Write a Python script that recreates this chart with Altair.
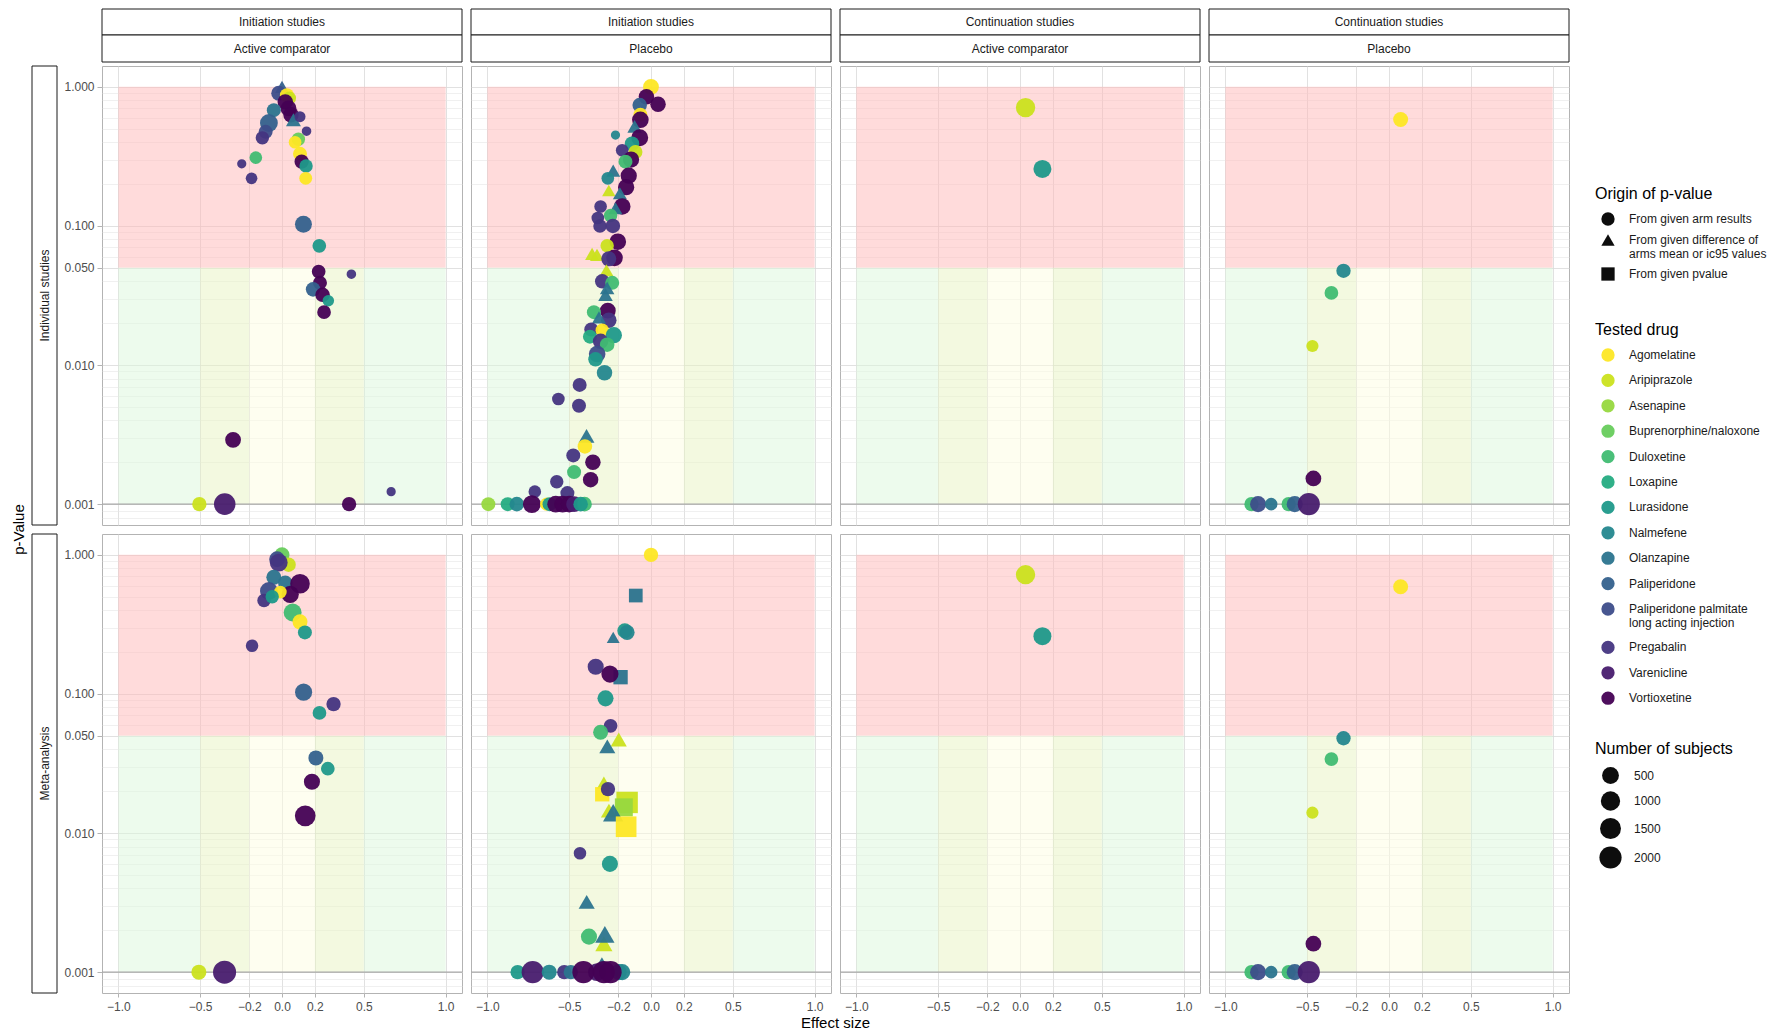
import altair as alt
import pandas as pd

FONT = "Liberation Sans"

# ---------------- categories ----------------
DRUG_CODES = ["AGO", "ARI", "ASE", "BUP", "DUL", "LOX", "LUR", "NAL", "OLA",
              "PAL", "PPL", "PRE", "VAR", "VOR"]
DRUG_NAMES = ["Agomelatine", "Aripiprazole", "Asenapine", "Buprenorphine/naloxone",
              "Duloxetine", "Loxapine", "Lurasidone", "Nalmefene", "Olanzapine",
              "Paliperidone", "Paliperidone palmitate long acting injection",
              "Pregabalin", "Varenicline", "Vortioxetine"]
DRUG_COLORS = ["#FDE725", "#CBE11E", "#97D83F", "#67CC5C", "#40BC72", "#25AC82",
               "#1F998A", "#24878E", "#2B748E", "#34618D", "#3D4D8A", "#453581",
               "#481C6E", "#440154"]
ORIGIN_CODES = ["A", "D", "P"]
ORIGIN_NAMES = ["From given arm results",
                "From given difference of arms mean or ic95 values",
                "From given pvalue"]
ORIGIN_SHAPES = ["circle", "triangle-up", "square"]

STUDY_TYPES = ["Initiation studies", "Initiation studies",
               "Continuation studies", "Continuation studies"]
COMPARATORS = ["Active comparator", "Placebo", "Active comparator", "Placebo"]
LEVELS = ["Individual studies", "Meta-analysis"]

X_TICKS = [-1.0, -0.5, -0.2, 0.0, 0.2, 0.5, 1.0]
Y_TICKS = [0.001, 0.01, 0.05, 0.1, 1.0]
Y_MINOR = [0.0008, 0.0009, 0.002, 0.003, 0.004, 0.005, 0.006, 0.007, 0.008, 0.009,
           0.02, 0.03, 0.04, 0.06, 0.07, 0.08, 0.09,
           0.2, 0.3, 0.4, 0.5, 0.6, 0.7, 0.8, 0.9]
SUBJECT_TICKS = [500, 1000, 1500, 2000]

# thresholds of the coloured zones
P_FLOOR, P_SIGNIF, P_MAX = 0.001, 0.05, 1.0
ES_SMALL, ES_MEDIUM, ES_MAX = 0.2, 0.5, 1.0
ZONES = ["not significant", "large effect", "medium effect", "small effect"]
ZONE_COLORS = ["#FFB7B7", "#DBF7DB", "#E7F3C1", "#FDFDE1"]

# ---------------- data: Individual studies ----------------
ind_init_active_effect = [0.00, -0.02, 0.03, 0.045, 0.02, 0.04, 0.055, -0.05, 0.07, -0.08,
                          -0.10, -0.12, 0.11, 0.15, 0.10, 0.08, 0.11, 0.12, 0.147, -0.16,
                          -0.246, -0.186, 0.145, 0.131, 0.228, 0.224, 0.424, 0.232, 0.19, 0.248,
                          0.283, 0.257, -0.299, 0.667, -0.505, -0.35, 0.41]
ind_init_active_pvalue = [1.00, 0.90, 0.87, 0.83, 0.78, 0.70, 0.63, 0.68, 0.58, 0.55,
                          0.475, 0.43, 0.61, 0.48, 0.42, 0.40, 0.33, 0.29, 0.27, 0.31,
                          0.28, 0.22, 0.22, 0.103, 0.072, 0.047, 0.045, 0.039, 0.035, 0.032,
                          0.029, 0.024, 0.0029, 0.00123, 0.001, 0.001, 0.001]
ind_init_active_drug = ("PAL PPL AGO ARI VOR VOR VOR OLA OLA PAL "
                        "PPL PRE PRE PRE BUP AGO AGO VOR LUR DUL "
                        "PRE PRE AGO PAL LUR VOR PRE VOR PAL VOR "
                        "LUR VOR VOR PRE ARI VAR VOR").split()
ind_init_active_origin = "DAAAAAAADA AAAAAAAAAA AAAAAAAAAA AAAAAAA"
ind_init_active_subjects = [200, 280, 200, 160, 330, 370, 330, 200, 280, 670,
                            200, 160, 60, 30, 160, 120, 200, 220, 160, 120,
                            25, 80, 130, 520, 180, 180, 30, 200, 240, 240,
                            75, 180, 370, 25, 220, 1720, 220]

ind_init_placebo_effect = [0.0, -0.028, 0.043, -0.069, -0.065, -0.065, -0.10, -0.069, -0.217, -0.116,
                           -0.176, -0.095, -0.122, -0.156, -0.231, -0.136, -0.264, -0.258, -0.152, -0.19,
                           -0.176, -0.308, -0.217, -0.325, -0.247, -0.312, -0.233, -0.203, -0.268, -0.36,
                           -0.33, -0.223, -0.258, -0.272, -0.298, -0.237, -0.268, -0.278, -0.264, -0.349,
                           -0.258, -0.318, -0.365, -0.298, -0.227, -0.373, -0.308, -0.268, -0.329, -0.339,
                           -0.284, -0.436, -0.566, -0.44, -0.394, -0.404, -0.475, -0.355, -0.47, -0.369,
                           -0.576, -0.71, -0.511, -0.994, -0.876, -0.82, -0.728, -0.637, -0.62, -0.582,
                           -0.54, -0.50, -0.47, -0.406, -0.43]
ind_init_placebo_pvalue = [1.0, 0.85, 0.75, 0.74, 0.63, 0.58, 0.52, 0.43, 0.45, 0.39,
                           0.35, 0.34, 0.30, 0.29, 0.25, 0.23, 0.22, 0.18, 0.19, 0.172,
                           0.138, 0.138, 0.134, 0.114, 0.119, 0.10, 0.10, 0.077, 0.072, 0.063,
                           0.062, 0.059, 0.058, 0.048, 0.040, 0.039, 0.0358, 0.032, 0.0246, 0.024,
                           0.021, 0.022, 0.018, 0.0178, 0.0164, 0.016, 0.0148, 0.014, 0.012, 0.011,
                           0.0088, 0.0072, 0.0057, 0.0051, 0.0031, 0.0026, 0.00224, 0.0020, 0.0017, 0.0015,
                           0.00145, 0.00123, 0.0012, 0.001, 0.001, 0.001, 0.001, 0.001, 0.001, 0.001,
                           0.001, 0.001, 0.001, 0.001, 0.001]
ind_init_placebo_drug = ("AGO VOR VOR PAL AGO VOR OLA VOR NAL LUR "
                         "PRE ARI VOR DUL OLA VOR NAL ARI VOR OLA "
                         "VOR PRE OLA PRE DUL PRE PRE VOR ARI ARI "
                         "ARI VOR PRE ARI PRE DUL OLA OLA VOR DUL "
                         "PRE OLA PRE AGO LUR LOX PRE DUL PPL LUR "
                         "NAL PRE PRE PRE OLA AGO PRE VOR DUL VOR "
                         "PRE PRE PRE ASE LOX NAL VOR AGO LUR VOR "
                         "VOR VOR VAR DUL LUR").split()
ind_init_placebo_origin = ("AAAAAADAAA AAAADAADAD AADAAAAAAD DAADAADDAA "
                           "ADAAAAAAAA AAAADAAAAA AAAAAAAAAA AAAAA")
ind_init_placebo_subjects = [370, 330, 330, 240, 200, 470, 240, 520, 25, 240,
                             120, 200, 420, 200, 200, 420, 120, 160, 420, 200,
                             470, 120, 200, 120, 160, 160, 240, 470, 160, 200,
                             200, 470, 280, 200, 240, 200, 240, 240, 370, 200,
                             330, 200, 200, 160, 420, 200, 330, 240, 470, 240,
                             330, 200, 120, 200, 370, 240, 200, 330, 200, 330,
                             160, 120, 200, 200, 200, 240, 670, 160, 200, 520,
                             520, 470, 370, 240, 240]

ind_cont_active_effect = [0.034, 0.137]
ind_cont_active_pvalue = [0.71, 0.257]
ind_cont_active_drug = ["ARI", "LUR"]
ind_cont_active_origin = "AA"
ind_cont_active_subjects = [1000, 700]

ind_cont_placebo_effect = [0.071, -0.278, -0.352, -0.468, -0.462, -0.84, -0.80, -0.72, -0.613, -0.576, -0.49]
ind_cont_placebo_pvalue = [0.583, 0.0476, 0.033, 0.0137, 0.00153, 0.001, 0.001, 0.001, 0.001, 0.001, 0.001]
ind_cont_placebo_drug = "AGO NAL DUL ARI VOR DUL PPL OLA DUL PAL VAR".split()
ind_cont_placebo_origin = "AAAAAAAAAAA"
ind_cont_placebo_subjects = [280, 225, 180, 100, 360, 225, 400, 115, 225, 400, 1950]

# ---------------- data: Meta-analysis ----------------
meta_init_active_effect = [0.0, 0.04, -0.03, -0.02, -0.05, 0.02, 0.11, -0.08, 0.05, -0.11,
                           -0.01, -0.06, 0.065, 0.11, 0.14, -0.183, 0.132, 0.315, 0.229, 0.207,
                           0.28, 0.183, 0.142, -0.508, -0.351]
meta_init_active_pvalue = [1.0, 0.85, 0.93, 0.88, 0.69, 0.63, 0.62, 0.55, 0.52, 0.47,
                           0.54, 0.50, 0.385, 0.33, 0.277, 0.222, 0.103, 0.0846, 0.073, 0.0347,
                           0.029, 0.0234, 0.0133, 0.001, 0.001]
meta_init_active_drug = ("BUP ARI PPL PRE OLA OLA VOR PPL VOR PRE "
                         "AGO LUR DUL AGO LUR PRE PAL PRE LUR PAL "
                         "LUR VOR VOR ARI VAR").split()
meta_init_active_origin = "AAAAAAAAAA AAAAAAAAAA AAAAA"
meta_init_active_subjects = [280, 240, 370, 670, 280, 240, 1080, 670, 570, 160,
                             120, 160, 690, 280, 200, 115, 550, 225, 180, 280,
                             180, 400, 1400, 280, 2400]

meta_init_placebo_effect = [0.0, -0.093, -0.16, -0.146, -0.231, -0.338, -0.186, -0.251, -0.278, -0.247,
                            -0.308, -0.197, -0.267, -0.288, -0.298, -0.263, -0.146, -0.166, -0.257, -0.231,
                            -0.152, -0.434, -0.251, -0.393, -0.379, -0.288, -0.282, -0.30, -0.815, -0.723,
                            -0.622, -0.53, -0.49, -0.197, -0.176, -0.33, -0.413, -0.288, -0.247]
meta_init_placebo_pvalue = [1.0, 0.51, 0.285, 0.277, 0.255, 0.157, 0.132, 0.139, 0.093, 0.059,
                            0.053, 0.047, 0.042, 0.023, 0.019, 0.0207, 0.0166, 0.0153, 0.0145, 0.014,
                            0.0111, 0.00716, 0.006, 0.0032, 0.0018, 0.0016, 0.00187, 0.0012, 0.001, 0.001,
                            0.001, 0.001, 0.001, 0.001, 0.001, 0.001, 0.001, 0.001, 0.001]
meta_init_placebo_drug = ("AGO OLA LUR NAL OLA PRE OLA VOR LUR PRE "
                          "DUL ARI OLA ARI AGO PRE ARI ASE ARI OLA "
                          "AGO PRE LUR OLA DUL ARI OLA OLA LUR VAR "
                          "NAL PRE OLA LUR NAL VAR VOR VOR VOR").split()
meta_init_placebo_origin = "APAADAPAAA ADDDPAPPDD PAADADDDAA AAAAAAAAA"
meta_init_placebo_subjects = [225, 180, 283, 283, 130, 400, 225, 550, 400, 180,
                              283, 400, 400, 225, 225, 225, 1680, 690, 400, 1300,
                              1400, 115, 400, 400, 400, 550, 1000, 22, 225, 1950,
                              283, 225, 225, 400, 400, 690, 1950, 1950, 1950]

meta_cont_active_effect = [0.034, 0.137]
meta_cont_active_pvalue = [0.72, 0.26]
meta_cont_active_drug = ["ARI", "LUR"]
meta_cont_active_origin = "AA"
meta_cont_active_subjects = [1000, 700]

meta_cont_placebo_effect = [0.071, -0.278, -0.352, -0.468, -0.462, -0.84, -0.80, -0.72, -0.613, -0.576, -0.49]
meta_cont_placebo_pvalue = [0.59, 0.048, 0.034, 0.014, 0.0016, 0.001, 0.001, 0.001, 0.001, 0.001, 0.001]
meta_cont_placebo_drug = "AGO NAL DUL ARI VOR DUL PPL OLA DUL PAL VAR".split()
meta_cont_placebo_origin = "AAAAAAAAAAA"
meta_cont_placebo_subjects = [280, 225, 180, 100, 360, 225, 400, 115, 225, 400, 1950]

# ---------------- helpers ----------------
DRUG_OF = dict(zip(DRUG_CODES, DRUG_NAMES))
ORIGIN_OF = dict(zip(ORIGIN_CODES, ORIGIN_NAMES))


def frame(effect, pvalue, drug, origin, subjects):
    origin = origin.replace(" ", "")
    return pd.DataFrame({
        "effect": effect,
        "pvalue": pvalue,
        "drug": [DRUG_OF[c] for c in drug],
        "origin": [ORIGIN_OF[c] for c in origin],
        "subjects": subjects,
    })


PANEL_DATA = [
    [frame(ind_init_active_effect, ind_init_active_pvalue, ind_init_active_drug,
           ind_init_active_origin, ind_init_active_subjects),
     frame(ind_init_placebo_effect, ind_init_placebo_pvalue, ind_init_placebo_drug,
           ind_init_placebo_origin, ind_init_placebo_subjects),
     frame(ind_cont_active_effect, ind_cont_active_pvalue, ind_cont_active_drug,
           ind_cont_active_origin, ind_cont_active_subjects),
     frame(ind_cont_placebo_effect, ind_cont_placebo_pvalue, ind_cont_placebo_drug,
           ind_cont_placebo_origin, ind_cont_placebo_subjects)],
    [frame(meta_init_active_effect, meta_init_active_pvalue, meta_init_active_drug,
           meta_init_active_origin, meta_init_active_subjects),
     frame(meta_init_placebo_effect, meta_init_placebo_pvalue, meta_init_placebo_drug,
           meta_init_placebo_origin, meta_init_placebo_subjects),
     frame(meta_cont_active_effect, meta_cont_active_pvalue, meta_cont_active_drug,
           meta_cont_active_origin, meta_cont_active_subjects),
     frame(meta_cont_placebo_effect, meta_cont_placebo_pvalue, meta_cont_placebo_drug,
           meta_cont_placebo_origin, meta_cont_placebo_subjects)],
]

bands = pd.DataFrame({
    "es_lo": [-ES_MAX, -ES_MAX, ES_MEDIUM, -ES_MEDIUM, ES_SMALL, -ES_SMALL],
    "es_hi": [ES_MAX, -ES_MEDIUM, ES_MAX, -ES_SMALL, ES_MEDIUM, ES_SMALL],
    "p_lo": [P_SIGNIF, P_FLOOR, P_FLOOR, P_FLOOR, P_FLOOR, P_FLOOR],
    "p_hi": [P_MAX, P_SIGNIF, P_SIGNIF, P_SIGNIF, P_SIGNIF, P_SIGNIF],
    "zone": ["not significant", "large effect", "large effect",
             "medium effect", "medium effect", "small effect"],
})
one_row = pd.DataFrame({"k": [0]})

# ---------------- layout ----------------
W, H = 360, 459
COL_GAP, ROW_GAP = 9, 9
LEG_X = 1493

x_scale = alt.Scale(domain=[-1.1, 1.1], nice=False, zero=False)
y_scale = alt.Scale(type="log", domain=[10 ** -3.15, 10 ** 0.15], nice=False)

MAJOR_TEST = "indexof([" + ",".join(repr(v) for v in Y_TICKS) + "], datum.value) >= 0"


def x_axis(show):
    return alt.Axis(values=X_TICKS, title=None, grid=True, gridColor="#D9D9D9",
                    gridWidth=0.8, domain=False, labels=show, ticks=show, tickSize=4,
                    tickColor="#B3B3B3", format=".1f", labelFont=FONT, labelFontSize=12,
                    labelColor="#4D4D4D", labelPadding=4, labelOverlap=False,
                    labelFlush=False)


def y_axis(show):
    return alt.Axis(values=sorted(Y_TICKS + Y_MINOR), title=None, grid=True,
                    gridColor={"condition": {"test": MAJOR_TEST, "value": "#D9D9D9"},
                               "value": "#E6E6E6"},
                    gridWidth={"condition": {"test": MAJOR_TEST, "value": 0.8},
                               "value": 0.6},
                    domain=False, labels=show, ticks=show, tickSize=5,
                    tickColor={"condition": {"test": MAJOR_TEST, "value": "#B3B3B3"},
                               "value": "transparent"},
                    labelExpr=MAJOR_TEST + " ? format(datum.value, '.3f') : ''",
                    labelFont=FONT, labelFontSize=12, labelColor="#4D4D4D",
                    labelPadding=3, labelOverlap=False, labelFlush=False)


LEG_COMMON = dict(orient="none", direction="vertical", legendX=LEG_X,
                  titleFont=FONT, titleFontSize=16, titleFontWeight="normal",
                  titleColor="#000000", labelFont=FONT, labelFontSize=12,
                  labelColor="#1A1A1A", padding=0, titlePadding=10, labelLimit=240,
                  symbolStrokeWidth=0)

COLOR_ENC = alt.Color(
    "drug:N", scale=alt.Scale(domain=DRUG_NAMES, range=DRUG_COLORS),
    legend=alt.Legend(title="Tested drug", legendY=256, symbolType="circle",
                      symbolSize=177, symbolOpacity=0.95, rowPadding=11.4,
                      symbolOffset=6, labelOffset=14,
                      labelExpr="datum.label == 'Paliperidone palmitate long acting injection'"
                                " ? ['Paliperidone palmitate', 'long acting injection']"
                                " : datum.label",
                      **LEG_COMMON))
SHAPE_ENC = alt.Shape(
    "origin:N", scale=alt.Scale(domain=ORIGIN_NAMES, range=ORIGIN_SHAPES),
    legend=alt.Legend(title="Origin of p-value", legendY=120, symbolSize=177,
                      symbolFillColor="black", symbolStrokeColor="black",
                      rowPadding=7, symbolOffset=6, labelOffset=14,
                      labelExpr="datum.label == 'From given difference of arms mean or ic95 values'"
                                " ? ['From given difference of', 'arms mean or ic95 values']"
                                " : datum.label",
                      **LEG_COMMON))
SIZE_ENC = alt.Size(
    "subjects:Q", scale=alt.Scale(type="pow", exponent=0.4, domain=[0, 2400], range=[0, 530]),
    legend=alt.Legend(title="Number of subjects", legendY=675, values=SUBJECT_TICKS,
                      format="d", symbolType="circle", symbolFillColor="black",
                      symbolStrokeColor="black", rowPadding=7, symbolOffset=4,
                      labelOffset=12, **LEG_COMMON))


def make_panel(df, row, col):
    xa = x_axis(row == 1)
    ya = y_axis(col == 0)

    band_layer = alt.Chart(bands).mark_rect(opacity=0.5).encode(
        x=alt.X("es_lo:Q", scale=x_scale, axis=xa, title=None),
        x2=alt.X2("es_hi"),
        y=alt.Y("p_lo:Q", scale=y_scale, axis=ya, title=None),
        y2=alt.Y2("p_hi"),
        fill=alt.Fill("zone:N", scale=alt.Scale(domain=ZONES, range=ZONE_COLORS), legend=None),
    )
    floor_layer = alt.Chart(one_row).mark_rule(color="#A8A8A8", strokeWidth=1.3).encode(
        y=alt.YDatum(P_FLOOR, type="quantitative", scale=y_scale, axis=ya, title=None)
    )
    point_layer = alt.Chart(df).mark_point(filled=True, opacity=0.95).encode(
        x=alt.X("effect:Q", scale=x_scale, axis=xa, title=None),
        y=alt.Y("pvalue:Q", scale=y_scale, axis=ya, title=None),
        color=COLOR_ENC, shape=SHAPE_ENC, size=SIZE_ENC,
    )
    layers = [band_layer, floor_layer, point_layer]

    if row == 0:
        for (y0, y1, label) in [(-57, -31, STUDY_TYPES[col]), (-31, -4, COMPARATORS[col])]:
            layers.append(alt.Chart(one_row).mark_rect(fill="white", stroke="#1A1A1A",
                                                       strokeWidth=1).encode(
                x=alt.value(0), x2=alt.value(W), y=alt.value(y0), y2=alt.value(y1)))
            layers.append(alt.Chart(one_row).mark_text(text=label, font=FONT, fontSize=12,
                                                       color="#1A1A1A").encode(
                x=alt.value(W / 2), y=alt.value((y0 + y1) / 2)))
    if col == 0:
        layers.append(alt.Chart(one_row).mark_rect(fill="white", stroke="#1A1A1A",
                                                   strokeWidth=1).encode(
            x=alt.value(-70), x2=alt.value(-45), y=alt.value(0), y2=alt.value(H)))
        layers.append(alt.Chart(one_row).mark_text(text=LEVELS[row], font=FONT, fontSize=12,
                                                   angle=270, color="#1A1A1A").encode(
            x=alt.value(-57.5), y=alt.value(H / 2)))
    if row == 0 and col == 0:
        layers.append(alt.Chart(one_row).mark_text(text="p-Value", font=FONT, fontSize=15,
                                                   angle=270, color="#000000").encode(
            x=alt.value(-83), y=alt.value(H + ROW_GAP / 2)))
    if row == 1 and col == 1:
        layers.append(alt.Chart(one_row).mark_text(text="Effect size", font=FONT, fontSize=15,
                                                   color="#000000").encode(
            x=alt.value(W + COL_GAP / 2), y=alt.value(H + 30)))

    return alt.layer(*layers).properties(width=W, height=H)


panels = [make_panel(PANEL_DATA[r][c], r, c) for r in range(2) for c in range(4)]

chart = alt.concat(*panels, columns=4, spacing={"row": ROW_GAP, "column": COL_GAP},
                   bounds="flush").properties(
    padding={"left": 3, "top": 0, "right": 0, "bottom": 0}
).configure(font=FONT, background="white").configure_view(stroke="#B3B3B3", strokeWidth=1)

chart.save("out.html", embed_options={"renderer": "svg", "actions": False})
